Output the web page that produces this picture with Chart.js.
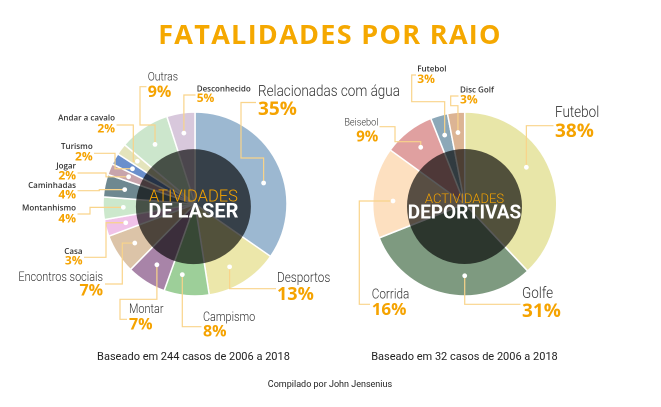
<!DOCTYPE html>
<html><head><meta charset="utf-8">
<script src="https://cdn.jsdelivr.net/npm/chart.js@4.4.0/dist/chart.umd.min.js"></script>
<style>
html,body{margin:0;padding:0;background:#fff;width:661px;height:407px;overflow:hidden;}
canvas{position:absolute;left:0;top:0;}
.t{position:absolute;white-space:nowrap;transform:translate(-50%,-50%);line-height:1;}
#title{left:330px;top:33px;font:700 27px "Open Sans";color:#f5a800;letter-spacing:1.3px;}
.foot{font:400 11px Roboto;color:#222;top:356px;}
#f1{left:193.5px;}
#f2{left:464.5px;}
#f3{left:330px;top:384px;font:400 9px Roboto;color:#222;}
</style></head>
<body>
<canvas id="c1" width="661" height="407"></canvas>
<canvas id="c2" width="661" height="407"></canvas>
<div id="title" class="t">FATALIDADES POR RAIO</div>
<div id="f1" class="t foot">Baseado em 244 casos de 2006 a 2018</div>
<div id="f2" class="t foot">Baseado em 32 casos de 2006 a 2018</div>
<div id="f3" class="t">Compilado por John Jensenius</div>
<script>
// ---------- DATA ----------
const leisureCategories = ['Relacionadas com água','Desportos','Campismo','Montar','Encontros sociais','Casa','Montanhismo','Caminhadas','Jogar','Turismo','Andar a cavalo','Outras','Desconhecido'];
const leisureValues = [35,13,8,7,7,3,4,4,2,2,2,9,5];
const leisureCenter = ['ATIVIDADES','DE LASER'];

const sportsCategories = ['Futebol','Golfe','Corrida','Beisebol','Futebol','Disc Golf'];
const sportsValues = [38,31,16,9,3,3];
const sportsCenter = ['ACTIVIDADES','DEPORTIVAS'];

// ---------- STYLE ----------
const leisureColors = ['#9cb8d1','#ece7aa','#9dcf99','#a884a8','#dcc4a8','#f0c2e8','#cce8cc','#6e8890','#c8a4ac','#6a8fcc','#e4e4bc','#cce6cc','#d8c8dc'];
const sportsColors = ['#e8e6a8','#7e9a80','#fde0c0','#e0a0a0','#8ca8b8','#dcb494'];
const ORANGE = '#f5a300';
const LINE = '#f9d48a';
const TEXT = '#333333';
const NAME_SCALE = 0.87;

// label layout: align, x, name y, pct y, name font size, small?, pct size, leader path, dot fraction in slice
const leisureLayout = [
  {al:'left', x:258, ny:92, py:109.5, ns:15.5, ps:19, path:[['v',158],['h',241],['v',102.5],['h',256]], f:0.585},
  {al:'left', x:277, ny:278.5, py:295, ns:13.5, ps:18, path:[['v',288.7],['h',276]], f:0.57},
  {al:'left', x:203, ny:318, py:332, ns:12.5, ps:16, path:[['v',326.7],['h',201.5]], f:0.67},
  {al:'left', x:129, ny:310, py:325, ns:12.5, ps:16, path:[['v',299.3],['h',120],['v',319.3],['h',127]]},
  {al:'right', x:103, ny:278, py:291, ns:12.5, ps:16, path:[['h',122.3],['v',284],['h',105]]},
  {al:'right', x:82.5, ny:251.5, py:261, ns:8, sm:true, ps:12, path:[['h',106],['v',257.3],['h',84]]},
  {al:'right', x:76, ny:208.3, py:219, ns:8, sm:true, ps:12, path:[['h',90],['v',214],['h',77.5]]},
  {al:'right', x:76, ny:185.7, py:195, ns:8, sm:true, ps:12, path:[['h',99.3],['v',190.7],['h',77.5]]},
  {al:'right', x:76, ny:166, py:176, ns:8, sm:true, ps:12, path:[['h',106],['v',173],['h',77.5]]},
  {al:'right', x:92.7, ny:146.7, py:157, ns:8, sm:true, ps:12, path:[['h',115],['v',153.3],['h',94]]},
  {al:'right', x:115, ny:118.3, py:129, ns:8, sm:true, ps:12, path:[['h',133.3],['v',125],['h',116.5]]},
  {al:'left', x:147.7, ny:77.7, py:92.5, ns:12, ps:16, path:[['v',125],['h',140],['v',86.7],['h',146.5]]},
  {al:'left', x:196.7, ny:89, py:98.5, ns:8, sm:true, ps:12, path:[['v',95],['h',195.5]]}
];
const sportsLayout = [
  {al:'left', x:555, ny:113.3, py:131.5, ns:15.5, ps:19, path:[['v',125.7],['h',553.5]], f:0.433},
  {al:'left', x:522, ny:294.3, py:311.7, ns:15.5, ps:19, path:[['v',304.3],['h',520.5]], f:0.387},
  {al:'left', x:371.7, ny:295, py:310, ns:13.5, ps:17, path:[['h',359.3],['v',304.3],['h',370]], f:0.417},
  {al:'right', x:378.3, ny:122.7, py:137, ns:10.5, ps:15, path:[['v',141.7],['h',395],['v',126.7],['h',379.5]]},
  {al:'left', x:417.3, ny:69.3, py:79.5, ns:8, sm:true, ps:12, path:[['v',101.7],['h',411.7],['v',75],['h',416]]},
  {al:'left', x:460, ny:90, py:100, ns:8, sm:true, ps:12, path:[['v',105.7],['h',450.7],['v',96],['h',458.5]]}
];

function makePlugin(cfg){
  return {
    id:'leaders',
    afterDatasetsDraw(chart){
      const ctx = chart.ctx;
      const arcs = chart.getDatasetMeta(0).data;
      const cx = arcs[0].x, cy = arcs[0].y, R = arcs[0].outerRadius;
      const ox = cx + cfg.odx, oy = cy + cfg.ody;
      ctx.save();
      // dark inner overlay
      ctx.beginPath();
      ctx.arc(ox, oy, R*cfg.or, 0, Math.PI*2);
      ctx.fillStyle = 'rgba(0,0,0,0.65)';
      ctx.fill();
      // centre text
      ctx.textAlign = 'center';
      ctx.textBaseline = 'middle';
      ctx.fillStyle = ORANGE;
      ctx.font = '300 ' + cfg.c1 + 'px Roboto';
      ctx.fillText(cfg.center[0], ox, oy + cfg.c1y);
      ctx.fillStyle = '#ffffff';
      ctx.font = '700 ' + cfg.c2 + 'px Roboto';
      ctx.fillText(cfg.center[1], ox, oy + cfg.c2y);
      // leaders & labels
      arcs.forEach((arc, i) => {
        const L = cfg.layout[i];
        const f = L.f === undefined ? 0.5 : L.f;
        const ang = arc.startAngle + (arc.endAngle - arc.startAngle) * f;
        const r = R * 0.78;
        let x = cx + r*Math.cos(ang), y = cy + r*Math.sin(ang);
        const dx = x, dy = y;
        ctx.beginPath();
        ctx.moveTo(x, y);
        L.path.forEach(([d, v]) => { if (d === 'h') x = v; else y = v; ctx.lineTo(x, y); });
        ctx.strokeStyle = LINE;
        ctx.lineWidth = 1.2;
        ctx.stroke();
        ctx.beginPath();
        ctx.arc(dx, dy, 2.4, 0, Math.PI*2);
        ctx.fillStyle = '#ffffff';
        ctx.fill();
        ctx.textAlign = L.al;
        ctx.textBaseline = 'middle';
        ctx.fillStyle = TEXT;
        if (L.sm) {
          ctx.font = '600 ' + L.ns + 'px "Open Sans"';
          ctx.fillText(cfg.cats[i], L.x, L.ny);
        } else {
          ctx.save();
          ctx.translate(L.x, L.ny);
          ctx.scale(NAME_SCALE, 1);
          ctx.font = '300 ' + L.ns + 'px Roboto';
          ctx.fillText(cfg.cats[i], 0, 0);
          ctx.restore();
        }
        ctx.fillStyle = ORANGE;
        ctx.font = '700 ' + L.ps + 'px "Open Sans"';
        ctx.fillText(cfg.vals[i] + '%', L.x, L.py);
      });
      ctx.restore();
    }
  };
}

function makeChart(id, cats, vals, colors, pad, plugin){
  return new Chart(document.getElementById(id), {
    type:'pie',
    data:{labels:cats, datasets:[{data:vals, backgroundColor:colors, borderColor:'#ffffff', borderWidth:1.5}]},
    options:{
      responsive:false, animation:false, devicePixelRatio:2,
      layout:{padding:pad},
      plugins:{legend:{display:false}, tooltip:{enabled:false}}
    },
    plugins:[plugin]
  });
}

makeChart('c1', leisureCategories, leisureValues, leisureColors,
  {left:102.25, right:373.25, top:111.25, bottom:110.25},
  makePlugin({layout:leisureLayout, cats:leisureCategories, vals:leisureValues, center:leisureCenter,
    odx:-1.6, ody:2.6, or:0.625, c1:16.5, c1y:-9, c2:20, c2y:6}));
makeChart('c2', sportsCategories, sportsValues, sportsColors,
  {left:371.95, right:103.55, top:111.25, bottom:110.25},
  makePlugin({layout:sportsLayout, cats:sportsCategories, vals:sportsValues, center:sportsCenter,
    odx:-0.2, ody:2.5, or:0.625, c1:13, c1y:-7, c2:19, c2y:7}));
</script>
</body></html>
